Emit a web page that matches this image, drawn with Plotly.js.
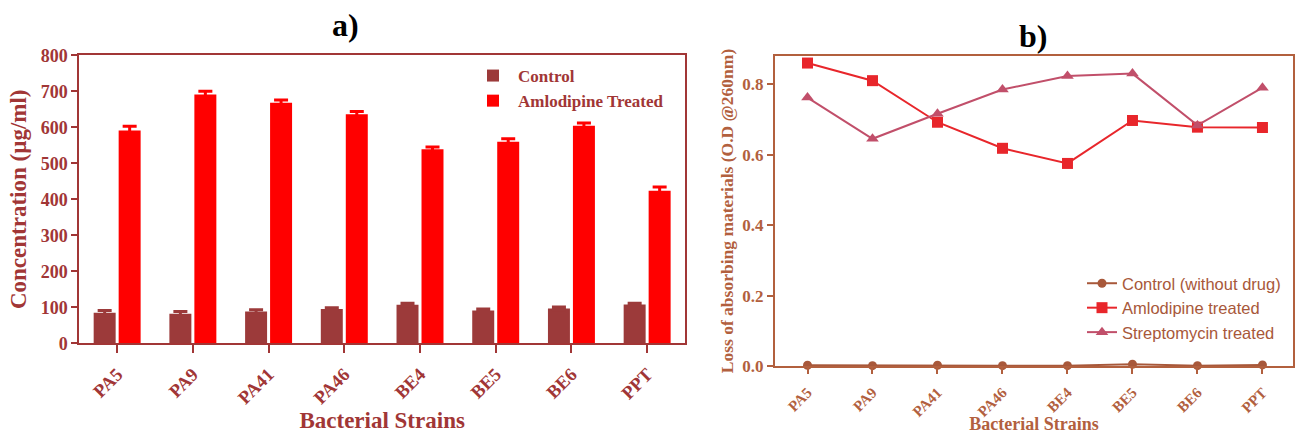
<!DOCTYPE html>
<html>
<head>
<meta charset="utf-8">
<script src="https://cdn.plot.ly/plotly-3.0.1.min.js"></script>
<style>html,body{margin:0;padding:0;background:#fff;}#chart{width:1298px;height:434px;}</style>
</head>
<body>
<div id="chart"></div>
<script>
// ---- Data ----
const strains = ["PA5", "PA9", "PA41", "PA46", "BE4", "BE5", "BE6", "PPT"];

// Panel a: concentration (µg/ml)
const controlConc = [85, 82, 88, 95, 107, 91, 97, 108];
const controlErr = [6, 6, 5, 4, 4, 4, 4, 3];
const amlodipineConc = [591, 691, 668, 636, 539, 560, 604, 424];
const amlodipineErr = [12, 9, 8, 8, 6, 8, 8, 10];

// Panel b: loss of absorbing materials (O.D @260nm)
const controlOD = [0.002, 0.001, 0.002, 0.001, 0.001, 0.005, 0.001, 0.003];
const amlodipineOD = [0.860, 0.810, 0.692, 0.618, 0.575, 0.697, 0.678, 0.677];
const streptomycinOD = [0.762, 0.645, 0.716, 0.785, 0.823, 0.830, 0.683, 0.790];

// ---- Styles ----
const W = 1298, H = 434;
const colA = "#a13636";
const colB = "#b2603e";
const serif = "Liberation Serif, Times New Roman, serif";
const sans = "Liberation Sans, Arial, sans-serif";

const traces = [
  {
    type: "bar", name: "Control", x: strains, y: controlConc,
    xaxis: "x", yaxis: "y", legend: "legend",
    marker: {color: "#9c3a3a"},
    error_y: {type: "data", array: controlErr, visible: true, color: "#9c3a3a", thickness: 3, width: 7}
  },
  {
    type: "bar", name: "Amlodipine Treated", x: strains, y: amlodipineConc,
    xaxis: "x", yaxis: "y", legend: "legend",
    marker: {color: "#ff0000"},
    error_y: {type: "data", array: amlodipineErr, visible: true, color: "#ff0000", thickness: 3, width: 7}
  },
  {
    type: "scatter", mode: "lines+markers", name: "Control (without drug)",
    x: strains, y: controlOD, xaxis: "x2", yaxis: "y2", legend: "legend2",
    line: {color: "#a8583a", width: 2}, marker: {symbol: "circle", size: 9, color: "#a8583a"},
    cliponaxis: false
  },
  {
    type: "scatter", mode: "lines+markers", name: "Amlodipine treated",
    x: strains, y: amlodipineOD, xaxis: "x2", yaxis: "y2", legend: "legend2",
    line: {color: "#e8262b", width: 2}, marker: {symbol: "square", size: 11, color: "#e8262b"},
    cliponaxis: false
  },
  {
    type: "scatter", mode: "lines+markers", name: "Streptomycin treated",
    x: strains, y: streptomycinOD, xaxis: "x2", yaxis: "y2", legend: "legend2",
    line: {color: "#c14f6a", width: 2}, marker: {symbol: "triangle-up", size: 11, color: "#c14f6a"},
    cliponaxis: false
  }
];

const layout = {
  width: W, height: H,
  margin: {l: 0, r: 0, t: 0, b: 0},
  paper_bgcolor: "#fff", plot_bgcolor: "#fff",
  barmode: "group", bargap: 0.34, bargroupgap: 0.12,
  showlegend: true,
  xaxis: {
    domain: [79.3 / W, 685 / W], anchor: "y",
    type: "category", range: [-0.5, 7.5],
    showline: true, linecolor: colA, linewidth: 2, mirror: true,
    ticks: "outside", ticklen: 8, tickwidth: 2, tickcolor: colA,
    tickangle: -45, ticklabelstandoff: 3, showgrid: false, zeroline: false,
    tickfont: {family: serif, size: 18.5, color: colA, weight: "bold"},
    title: {text: "<b>Bacterial Strains</b>", font: {family: serif, size: 23, color: colA}, standoff: 0}
  },
  yaxis: {
    domain: [1 - 343.3 / H, 1 - 55.3 / H], anchor: "x",
    range: [0, 800], dtick: 100,
    showline: true, linecolor: colA, linewidth: 2, mirror: true,
    ticks: "outside", ticklen: 6, tickwidth: 2, tickcolor: colA,
    showgrid: false, zeroline: false,
    tickfont: {family: serif, size: 18, color: colA, weight: "bold"},
    title: {text: "<b>Concentration (\u00b5g/ml)</b>", font: {family: serif, size: 23, color: colA}, standoff: 8}
  },
  xaxis2: {
    domain: [775 / W, 1293 / W], anchor: "y2",
    type: "category", range: [-0.5, 7.47],
    showline: true, linecolor: colB, linewidth: 2, mirror: true,
    ticks: "outside", ticklen: 6, tickwidth: 2, tickcolor: colB,
    tickangle: -45, ticklabelstandoff: 4, showgrid: false, zeroline: false,
    tickfont: {family: serif, size: 15, color: colB, weight: "bold"},
    title: {text: "<b>Bacterial Strains</b>", font: {family: serif, size: 18, color: colB}, standoff: 2}
  },
  yaxis2: {
    domain: [1 - 366 / H, 1 - 56 / H], anchor: "x2",
    range: [0, 0.88], tickvals: [0, 0.2, 0.4, 0.6, 0.8], ticktext: ["0.0", "0.2", "0.4", "0.6", "0.8"],
    showline: true, linecolor: colB, linewidth: 2, mirror: true,
    ticks: "outside", ticklen: 6, tickwidth: 2, tickcolor: colB,
    showgrid: false, zeroline: false,
    tickfont: {family: serif, size: 17, color: colB, weight: "bold"},
    title: {text: "<b>Loss of absorbing materials (O.D @260nm)</b>", font: {family: serif, size: 17.5, color: colB}, standoff: 4}
  },
  legend: {
    x: 468 / W, y: 1 - 58 / H, xanchor: "left", yanchor: "top",
    bgcolor: "rgba(0,0,0,0)", tracegroupgap: 6,
    font: {family: serif, size: 17, color: colA, weight: "bold"},
    itemwidth: 40
  },
  legend2: {
    x: 1082 / W, y: 1 - 266 / H, xanchor: "left", yanchor: "top",
    bgcolor: "rgba(0,0,0,0)",
    font: {family: sans, size: 16.5, color: "#a8583a"},
    itemwidth: 30
  },
  annotations: [
    {text: "<b>a)</b>", x: 345 / W, y: 1 - 25 / H, xref: "paper", yref: "paper",
     xanchor: "center", yanchor: "middle",
     showarrow: false, font: {family: serif, size: 32, color: "#000"}},
    {text: "<b>b)</b>", x: 1033 / W, y: 1 - 36 / H, xref: "paper", yref: "paper",
     xanchor: "center", yanchor: "middle",
     showarrow: false, font: {family: serif, size: 32, color: "#000"}}
  ]
};

Plotly.newPlot("chart", traces, layout, {displayModeBar: false, staticPlot: true});
</script>
</body>
</html>
